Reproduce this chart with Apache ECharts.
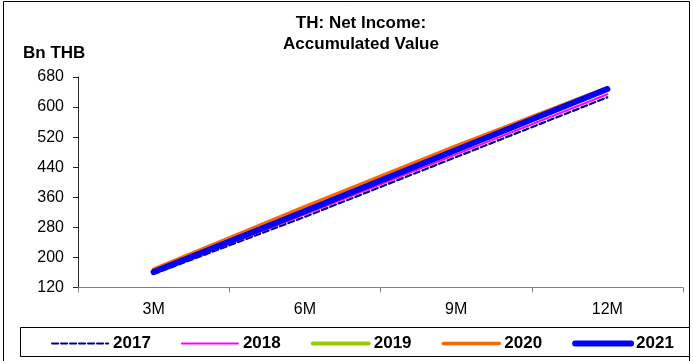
<!DOCTYPE html>
<html>
<head>
<meta charset="utf-8">
<script src="https://cdn.jsdelivr.net/npm/echarts@6/dist/echarts.min.js"></script>
<style>
  html, body { margin: 0; padding: 0; background: #fff; }
  #chart { width: 693px; height: 361px; }
</style>
</head>
<body>
<div id="chart"></div>
<script>
// Cumulative net income, billions of baht, by quarter-end
const periods = ['3M', '6M', '9M', '12M'];
const years = ['2017', '2018', '2019', '2020', '2021'];
const y2017 = [156, 308, 467, 626];
const y2018 = [158, 315, 474, 634];
const y2019 = [165, 328, 491, 648];
const y2020 = [169, 335, 497, 652];
const y2021 = [161, 323, 486, 648];
const yTicks = [120, 200, 280, 360, 440, 520, 600, 680];

const FONT = '"Liberation Sans", Arial, sans-serif';

const styles = [
  { color: '#000080', width: 2.2, type: [6, 3] },
  { color: '#FF00FF', width: 2, type: 'solid' },
  { color: '#99CC00', width: 4, type: 'solid' },
  { color: '#FF6600', width: 3.5, type: 'solid' },
  { color: '#0000FF', width: 6, type: 'solid' }
];
const values = [y2017, y2018, y2019, y2020, y2021];

const chart = echarts.init(document.getElementById('chart'), null, { renderer: 'canvas' });

chart.setOption({
  animation: false,
  backgroundColor: '#fff',
  textStyle: { fontFamily: FONT },
  title: {
    text: 'TH: Net Income:\nAccumulated Value',
    left: 356,
    top: 8,
    textAlign: 'center',
    textStyle: { fontFamily: FONT, fontSize: 17, fontWeight: 'bold', color: '#000', lineHeight: 21 }
  },
  graphic: [
    {
      type: 'rect', silent: true, z: -1,
      shape: { x: 3.5, y: 1.5, width: 686, height: 370 },
      style: { fill: 'none', stroke: '#000', lineWidth: 1 }
    },
    {
      type: 'rect', silent: true, z: -1,
      shape: { x: 20.5, y: 327.5, width: 669, height: 29 },
      style: { fill: 'none', stroke: '#000', lineWidth: 1 }
    },
    {
      type: 'text', silent: true,
      left: 23, top: 45,
      style: { text: 'Bn THB', fontFamily: FONT, fontSize: 17, fontWeight: 'bold', fill: '#000' }
    }
  ],
  legend: {
    data: years,
    left: 46,
    top: 330,
    itemWidth: 56,
    itemHeight: 14,
    itemGap: 30,
    itemStyle: { opacity: 0 },
    lineStyle: { width: 'inherit', type: 'inherit', cap: 'round' },
    textStyle: { fontFamily: FONT, fontSize: 17, fontWeight: 'bold', color: '#000' }
  },
  grid: { left: 78, right: 10, top: 77, bottom: 73.5, containLabel: false },
  xAxis: {
    type: 'category',
    data: periods,
    boundaryGap: true,
    axisLine: { lineStyle: { color: '#808080', width: 1 } },
    axisTick: { show: true, length: 5, inside: false, alignWithLabel: false, lineStyle: { color: '#808080' } },
    axisLabel: { margin: 14, fontFamily: FONT, fontSize: 16, color: '#000' },
    splitLine: { show: false }
  },
  yAxis: {
    type: 'value',
    min: 120,
    max: 680,
    axisLine: { show: true, lineStyle: { color: '#222', width: 1 } },
    axisTick: { show: true, length: 5, inside: false, customValues: yTicks, lineStyle: { color: '#222' } },
    axisLabel: { margin: 14, fontFamily: FONT, fontSize: 16, color: '#000', customValues: yTicks },
    splitLine: { show: false }
  },
  series: years.map((y, i) => ({
    name: y,
    type: 'line',
    data: values[i],
    symbol: 'none',
    showSymbol: false,
    smooth: false,
    z: 2 + i,
    itemStyle: { color: styles[i].color },
    lineStyle: {
      color: styles[i].color,
      width: styles[i].width,
      type: styles[i].type,
      cap: 'round',
      join: 'round'
    }
  }))
});
</script>
</body>
</html>
